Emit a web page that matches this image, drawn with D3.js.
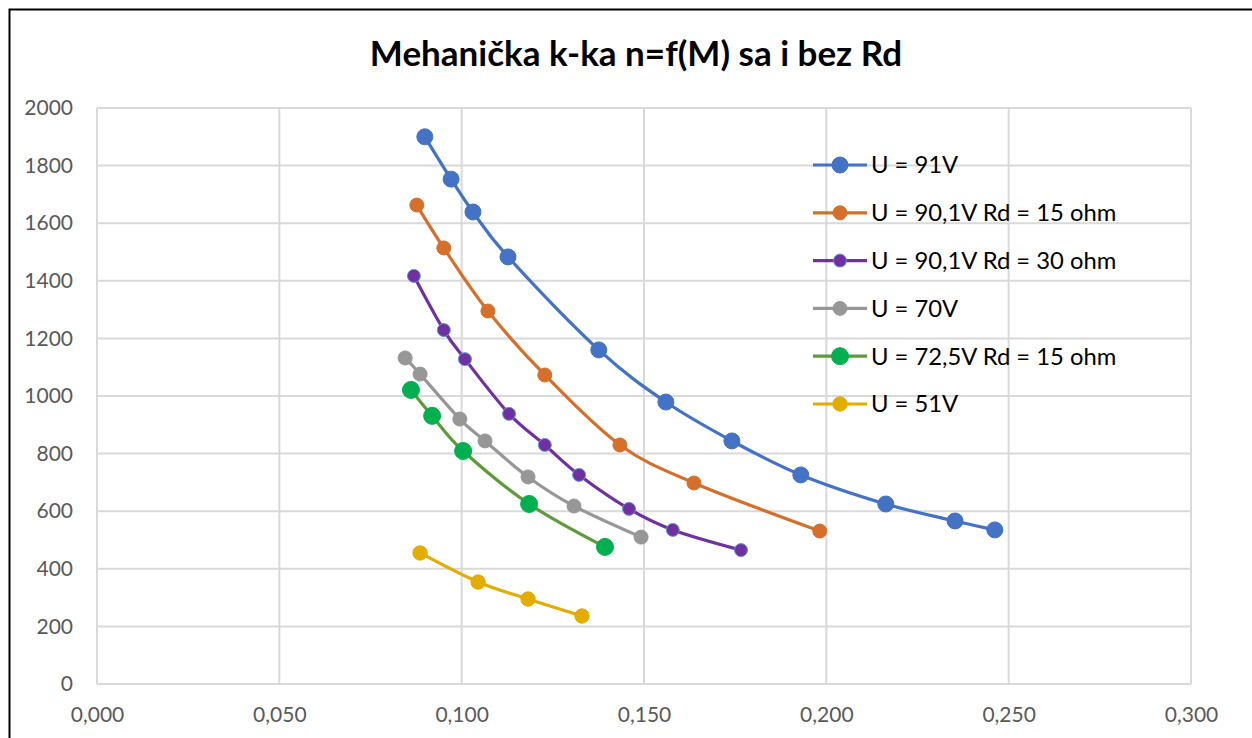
<!DOCTYPE html>
<html>
<head>
<meta charset="utf-8">
<script src="https://cdn.jsdelivr.net/npm/d3@7"></script>
<style>
  html, body { margin: 0; padding: 0; background: #fff; }
  svg { display: block; font-family: Lato, "Open Sans", "Liberation Sans", sans-serif; }
</style>
</head>
<body>
<svg id="chart" width="1252" height="738"></svg>
<script>
// Torque M (x) and speed n (y) for each measurement series
const seriesNames = [
  "U = 91V",
  "U = 90,1V Rd = 15 ohm",
  "U = 90,1V Rd = 30 ohm",
  "U = 70V",
  "U = 72,5V Rd = 15 ohm",
  "U = 51V"
];

const m91 = [0.0899, 0.0971, 0.1031, 0.1127, 0.1376, 0.1560, 0.1741, 0.1930, 0.2163, 0.2353, 0.2462];
const n91 = [1900, 1753, 1639, 1483, 1160, 979, 844, 726, 625, 566, 535];

const m90Rd15 = [0.0877, 0.0951, 0.1072, 0.1228, 0.1434, 0.1637, 0.1982];
const n90Rd15 = [1663, 1514, 1295, 1073, 830, 698, 531];

const m90Rd30 = [0.0869, 0.0951, 0.1009, 0.1130, 0.1228, 0.1322, 0.1459, 0.1579, 0.1766];
const n90Rd30 = [1417, 1229, 1128, 938, 830, 726, 608, 535, 465];

const m70 = [0.0845, 0.0886, 0.0995, 0.1064, 0.1182, 0.1308, 0.1492];
const n70 = [1132, 1076, 920, 844, 719, 618, 510];

const m72Rd15 = [0.0861, 0.0919, 0.1004, 0.1185, 0.1393];
const n72Rd15 = [1021, 931, 809, 625, 476];

const m51 = [0.0886, 0.1045, 0.1182, 0.1330];
const n51 = [455, 354, 295, 236];

const xTicks = [0, 0.05, 0.10, 0.15, 0.20, 0.25, 0.30];
const yTicks = [0, 200, 400, 600, 800, 1000, 1200, 1400, 1600, 1800, 2000];

const styles = [
  { line: "#4472C4", fill: "#4472C4", stroke: "#4472C4", r: 8 },
  { line: "#D4702C", fill: "#D4702C", stroke: "#D4702C", r: 7 },
  { line: "#7030A0", fill: "#7030A0", stroke: "#5B9BD5", r: 6.5 },
  { line: "#979797", fill: "#979797", stroke: "#979797", r: 7 },
  { line: "#5E9A3C", fill: "#00B050", stroke: "#00B050", r: 8.5 },
  { line: "#E2AC00", fill: "#E2AC00", stroke: "#E2AC00", r: 7.2 }
];

const xs = [m91, m90Rd15, m90Rd30, m70, m72Rd15, m51];
const ys = [n91, n90Rd15, n90Rd30, n70, n72Rd15, n51];
const series = seriesNames.map((name, i) => ({
  name,
  style: styles[i],
  points: xs[i].map((x, j) => ({ x, y: ys[i][j] }))
}));

const svg = d3.select("#chart");

// Outer chart frame
svg.append("rect")
  .attr("x", 9.5).attr("y", 9.5)
  .attr("width", 1260).attr("height", 760)
  .attr("fill", "none").attr("stroke", "#000").attr("stroke-width", 2);

const plot = { left: 97, right: 1191, top: 108, bottom: 684 };
const x = d3.scaleLinear().domain([0, 0.3]).range([plot.left, plot.right]);
const y = d3.scaleLinear().domain([0, 2000]).range([plot.bottom, plot.top]);

const fmtX = v => d3.format(".3f")(v).replace(".", ",");

// Gridlines
const grid = svg.append("g");
grid.selectAll("line.h").data(yTicks).join("line")
  .attr("x1", plot.left).attr("x2", plot.right)
  .attr("y1", d => y(d)).attr("y2", d => y(d))
  .attr("stroke", "#D9D9D9").attr("stroke-width", 2);
grid.selectAll("line.v").data(xTicks).join("line")
  .attr("y1", plot.top).attr("y2", plot.bottom)
  .attr("x1", d => x(d)).attr("x2", d => x(d))
  .attr("stroke", "#D9D9D9").attr("stroke-width", 2);

// Axes (labels only; domain and ticks are hidden)
const xAxis = d3.axisBottom(x).tickValues(xTicks).tickFormat(fmtX).tickSize(0).tickPadding(23);
const gx = svg.append("g").attr("transform", `translate(0,${plot.bottom})`).call(xAxis);
gx.select(".domain").remove();
gx.selectAll("text").attr("fill", "#595959").style("font-size", "21px")
  .style("font-family", "Lato, 'Open Sans', sans-serif");

const yAxis = d3.axisLeft(y).tickValues(yTicks).tickFormat(d3.format("d")).tickSize(0).tickPadding(24);
const gy = svg.append("g").attr("transform", `translate(${plot.left},0)`).call(yAxis);
gy.select(".domain").remove();
gy.selectAll("text").attr("fill", "#595959").style("font-size", "21px")
  .style("font-family", "Lato, 'Open Sans', sans-serif");

// Smoothed series lines and markers
const line = d3.line().x(d => x(d.x)).y(d => y(d.y)).curve(d3.curveCardinal.tension(0));

const sg = svg.append("g").selectAll("g").data(series).join("g");
sg.append("path")
  .attr("d", d => line(d.points))
  .attr("fill", "none")
  .attr("stroke", d => d.style.line)
  .attr("stroke-width", 3.2)
  .attr("stroke-linejoin", "round");
sg.each(function (s) {
  d3.select(this).selectAll("circle").data(s.points).join("circle")
    .attr("cx", d => x(d.x)).attr("cy", d => y(d.y))
    .attr("r", s.style.r)
    .attr("fill", s.style.fill)
    .attr("stroke", s.style.stroke)
    .attr("stroke-width", 1);
});

// Legend
const legend = svg.append("g").attr("transform", "translate(813,165)");
const row = legend.selectAll("g").data(series).join("g")
  .attr("transform", (d, i) => `translate(0,${i * 47.8})`);
row.append("line")
  .attr("x1", 0).attr("x2", 54).attr("y1", 0).attr("y2", 0)
  .attr("stroke", d => d.style.line).attr("stroke-width", 3.2);
row.append("circle")
  .attr("cx", 27).attr("cy", 0).attr("r", d => d.style.r)
  .attr("fill", d => d.style.fill).attr("stroke", d => d.style.stroke).attr("stroke-width", 1);
row.append("text")
  .attr("x", 58).attr("y", 0).attr("dy", "0.35em")
  .attr("fill", "#000")
  .style("font-size", "23.8px")
  .text(d => d.name);

// Title
svg.append("text")
  .attr("x", 636).attr("y", 66)
  .attr("text-anchor", "middle")
  .attr("fill", "#000")
  .style("font-size", "35px")
  .style("font-weight", "bold")
  .text("Mehanička k-ka n=f(M) sa i bez Rd");
</script>
</body>
</html>
